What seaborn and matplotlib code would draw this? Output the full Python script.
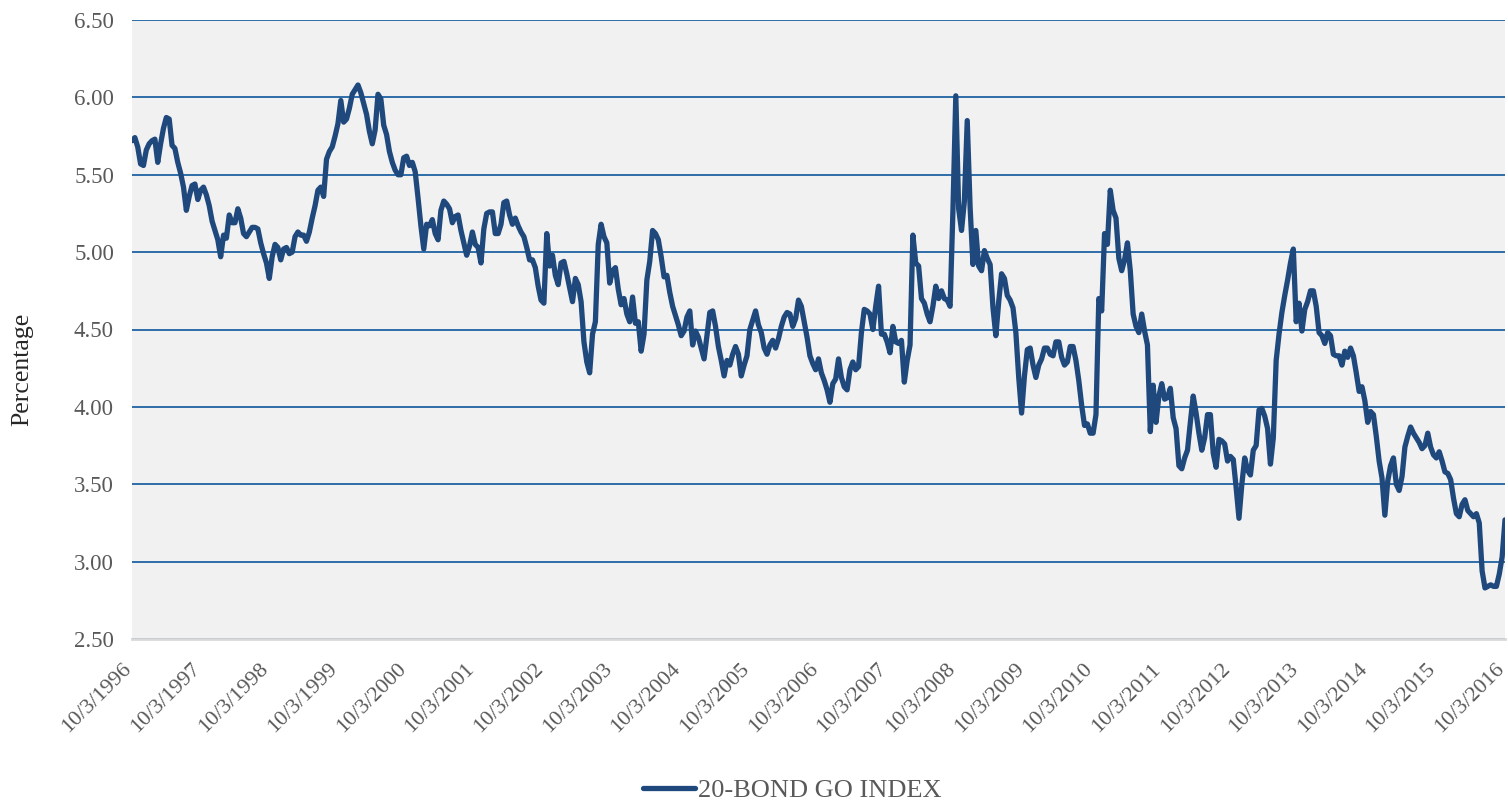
import pandas as pd
import numpy as np
import matplotlib
matplotlib.use("Agg")
import matplotlib.pyplot as plt
import seaborn as sns

# semi-monthly readings of the 20-bond GO index, Oct 1996 - Oct 2016
go_1996_2000 = [5.72, 5.74, 5.68, 5.57, 5.56, 5.66, 5.70, 5.72, 5.73, 5.58, 5.70, 5.80,
                5.87, 5.86, 5.69, 5.67, 5.58, 5.51, 5.42, 5.27, 5.36, 5.43, 5.44, 5.34,
                5.40, 5.42, 5.37, 5.30, 5.20, 5.14, 5.08, 4.97, 5.11, 5.09, 5.24, 5.19,
                5.19, 5.28, 5.22, 5.12, 5.10, 5.13, 5.16, 5.16, 5.15, 5.06, 4.99, 4.93,
                4.83, 4.97, 5.05, 5.03, 4.95, 5.02, 5.03, 4.99, 5.00, 5.10, 5.13, 5.11,
                5.11, 5.07, 5.13, 5.22, 5.30, 5.40, 5.42, 5.36, 5.60, 5.65, 5.68, 5.75,
                5.83, 5.98, 5.84, 5.86, 5.93, 6.02, 6.05, 6.08, 6.03, 5.96, 5.89, 5.78,
                5.70, 5.79, 6.02, 5.99, 5.82, 5.76, 5.65, 5.58, 5.53, 5.50, 5.50, 5.61]
go_2000_2004 = [5.62, 5.56, 5.58, 5.52, 5.35, 5.17, 5.02, 5.18, 5.17, 5.21, 5.12, 5.08,
                5.27, 5.33, 5.31, 5.28, 5.19, 5.23, 5.24, 5.14, 5.06, 4.98, 5.04, 5.13,
                5.05, 5.03, 4.93, 5.15, 5.25, 5.26, 5.26, 5.12, 5.12, 5.18, 5.32, 5.33,
                5.24, 5.18, 5.22, 5.17, 5.13, 5.10, 5.03, 4.95, 4.95, 4.90, 4.78, 4.69,
                4.67, 5.12, 4.91, 4.98, 4.85, 4.79, 4.93, 4.94, 4.86, 4.77, 4.68, 4.83,
                4.79, 4.68, 4.42, 4.29, 4.22, 4.47, 4.55, 5.05, 5.18, 5.10, 5.06, 4.80,
                4.88, 4.90, 4.76, 4.66, 4.70, 4.60, 4.55, 4.71, 4.54, 4.55, 4.36, 4.47,
                4.82, 4.94, 5.14, 5.12, 5.08, 4.97, 4.84, 4.85, 4.74, 4.65, 4.59, 4.53]
go_2004_2008 = [4.46, 4.49, 4.58, 4.62, 4.40, 4.49, 4.45, 4.38, 4.31, 4.46, 4.61, 4.62,
                4.52, 4.39, 4.30, 4.20, 4.30, 4.27, 4.34, 4.39, 4.34, 4.20, 4.27, 4.33,
                4.50, 4.56, 4.62, 4.53, 4.48, 4.38, 4.34, 4.40, 4.43, 4.38, 4.44, 4.52,
                4.58, 4.61, 4.60, 4.52, 4.57, 4.69, 4.65, 4.55, 4.45, 4.33, 4.28, 4.24,
                4.31, 4.22, 4.17, 4.11, 4.03, 4.15, 4.18, 4.31, 4.19, 4.13, 4.11, 4.24,
                4.29, 4.24, 4.26, 4.48, 4.63, 4.62, 4.60, 4.50, 4.65, 4.78, 4.47, 4.47,
                4.42, 4.35, 4.52, 4.42, 4.41, 4.43, 4.16, 4.30, 4.40, 5.11, 4.93, 4.91,
                4.70, 4.67, 4.60, 4.55, 4.65, 4.78, 4.70, 4.75, 4.70, 4.69, 4.65, 5.27]
go_2008_2012 = [6.01, 5.28, 5.14, 5.33, 5.85, 5.29, 4.92, 5.14, 4.91, 4.88, 5.01, 4.96,
                4.92, 4.64, 4.46, 4.68, 4.86, 4.83, 4.72, 4.69, 4.64, 4.48, 4.19, 3.96,
                4.20, 4.37, 4.38, 4.27, 4.19, 4.27, 4.31, 4.38, 4.38, 4.34, 4.33, 4.42,
                4.42, 4.32, 4.27, 4.29, 4.39, 4.39, 4.30, 4.17, 4.01, 3.88, 3.89, 3.83,
                3.83, 3.95, 4.70, 4.62, 5.12, 5.05, 5.40, 5.27, 5.22, 4.96, 4.88, 4.95,
                5.06, 4.88, 4.60, 4.52, 4.48, 4.60, 4.49, 4.40, 3.84, 4.14, 3.90, 4.07,
                4.15, 4.05, 4.06, 4.12, 3.93, 3.86, 3.62, 3.60, 3.67, 3.72, 3.90, 4.07,
                3.96, 3.83, 3.72, 3.80, 3.95, 3.95, 3.70, 3.61, 3.79, 3.78, 3.76, 3.65]
go_2012_2016 = [3.68, 3.66, 3.48, 3.28, 3.50, 3.67, 3.59, 3.56, 3.72, 3.75, 3.98, 3.99,
                3.94, 3.86, 3.63, 3.80, 4.30, 4.47, 4.61, 4.72, 4.82, 4.93, 5.02, 4.55,
                4.67, 4.49, 4.63, 4.68, 4.75, 4.75, 4.65, 4.48, 4.46, 4.41, 4.48, 4.46,
                4.34, 4.33, 4.33, 4.27, 4.36, 4.32, 4.38, 4.33, 4.22, 4.10, 4.13, 4.04,
                3.90, 3.97, 3.95, 3.81, 3.65, 3.54, 3.30, 3.52, 3.62, 3.67, 3.50, 3.46,
                3.55, 3.74, 3.81, 3.87, 3.83, 3.80, 3.77, 3.73, 3.75, 3.83, 3.74, 3.69,
                3.67, 3.71, 3.65, 3.58, 3.57, 3.53, 3.41, 3.31, 3.29, 3.37, 3.40, 3.33,
                3.31, 3.29, 3.31, 3.25, 2.94, 2.83, 2.84, 2.85, 2.84, 2.84, 2.92, 3.03,
                3.27]

tick_years = list(range(1996, 2017))
y_ticks = [2.5, 3.0, 3.5, 4.0, 4.5, 5.0, 5.5, 6.0, 6.5]

values = go_1996_2000 + go_2000_2004 + go_2004_2008 + go_2008_2012 + go_2012_2016
dates = pd.date_range("1996-10-03", "2016-10-03", periods=len(values))
df = pd.DataFrame({"Date": dates, "Index": values})

sns.set_style("white")
plt.rcParams['font.family'] = ['Liberation Serif', 'DejaVu Serif']

fig = plt.figure(figsize=(15.08, 8.02), dpi=100)
ax = fig.add_axes([132/1508, 1 - 639/802, (1505 - 132)/1508, (639 - 20)/802])
ax.set_facecolor("#F1F1F1")

sns.lineplot(data=df, x="Date", y="Index", ax=ax, color="#1F497D", linewidth=3.8,
             label="20-BOND GO INDEX", legend=False, zorder=3)

ax.set_xlim(pd.Timestamp("1996-10-03"), pd.Timestamp("2016-10-03"))
ax.set_ylim(2.5, 6.5)
ax.set_yticks(y_ticks)
ax.set_yticklabels([f"{v:.2f}" for v in y_ticks])
tick_dates = [pd.Timestamp(f"{y}-10-03") for y in tick_years]
ax.set_xticks(tick_dates)
ax.set_xticklabels([f"10/3/{y}" for y in tick_years], rotation=45, ha="right",
                   va="baseline", rotation_mode="anchor")

ax.grid(axis="y", color="#2E6DA8", linewidth=1.4)
ax.grid(axis="x", visible=False)
ax.set_axisbelow(True)
for s in ["top", "left", "right"]:
    ax.spines[s].set_visible(False)
ax.spines["bottom"].set_color("#D9D9D9")
ax.spines["bottom"].set_linewidth(2)
ax.spines["bottom"].set_zorder(4)

ax.tick_params(axis="y", length=0, pad=13, labelsize=16.5, labelcolor="#595959")
ax.tick_params(axis="x", length=0, pad=22, labelsize=16, labelcolor="#595959")
ax.set_xlabel("")
ax.set_ylabel("Percentage", fontsize=18.5, color="#262626")
ax.yaxis.set_label_coords(-0.0721, 0.435)

handles, labels = ax.get_legend_handles_labels()
fig.legend(handles, labels, loc="center", bbox_to_anchor=(792/1508, 1 - 790/802),
           frameon=False, fontsize=19, handlelength=2.0, handletextpad=0.1,
           labelcolor="#595959")

fig.savefig("out.png", dpi=100)
